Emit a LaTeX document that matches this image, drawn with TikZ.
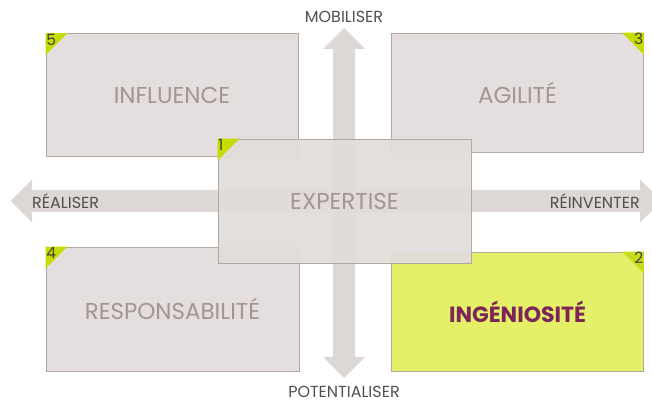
\documentclass[tikz,border=0pt]{standalone}
\usepackage{fontspec}
\setmainfont{Poppins}
\definecolor{boxfill}{HTML}{E2DDDB}
\definecolor{boxline}{HTML}{B3A79F}
\definecolor{arrowfill}{HTML}{DDD8D5}
\definecolor{boxtext}{HTML}{A39590}
\definecolor{axistext}{HTML}{505050}
\definecolor{numtext}{HTML}{404040}
\definecolor{limecorner}{HTML}{C6DC00}
\definecolor{limefill}{HTML}{E2F05C}
\definecolor{limecorner2}{HTML}{C8DC18}
\definecolor{burgundy}{HTML}{7D2458}
\begin{document}
\begin{tikzpicture}[x=1pt,y=-1pt,
  quad/.style={draw=boxline, line width=0.8pt, fill=boxfill, fill opacity=0.93, text opacity=1,
    minimum width=252pt, minimum height=123pt, inner sep=0pt, text=boxtext,
    font=\fontsize{23}{26}\selectfont},
  axislabel/.style={text=axistext, inner sep=0pt, font=\fontsize{16}{18}\selectfont},
  num/.style={text=numtext, inner sep=0.5pt, font=\fontsize{15.5}{16}\selectfont},
  corner/.style={fill=limecorner}]
\useasboundingbox (0,0) rectangle (652,403);
\clip (0,0) rectangle (652,403);
% axes
\fill[arrowfill] (10.5,201) -- (32,179.5) -- (32,190) -- (640,190) -- (640,179.5) -- (661.5,201)
  -- (640,222.5) -- (640,212) -- (32,212) -- (32,222.5) -- cycle;
\fill[arrowfill] (344,28) -- (365,49) -- (355,49) -- (355,357) -- (365,357) -- (344,378)
  -- (323,357) -- (333,357) -- (333,49) -- (323,49) -- cycle;
\node[axislabel] (mob) at (344,17) {MOBILISER};
\node[axislabel] (pot) at (344,392) {POTENTIALISER};
\node[axislabel, anchor=west] (rea) at (32,201) {RÉALISER};
\node[axislabel, anchor=east] (rei) at (640,201) {RÉINVENTER};
% boxes
\node[quad] (b5) at (172,95) {INFLUENCE};
\fill[corner] (b5.north west) -- ++(22,0) -- ++(-22,22) -- cycle;
\node[num, anchor=north west] (n5) at (b5.north west) {5};

\node[quad, minimum height=119pt] (b3) at (517.5,92.5) {AGILITÉ};
\fill[corner] (b3.north east) -- ++(-22,0) -- ++(22,22) -- cycle;
\node[num, anchor=north east] (n3) at (b3.north east) {3};

\node[quad, minimum width=253pt, minimum height=124pt] (b4) at (172.5,309) {RESPONSABILITÉ};
\fill[corner] (b4.north west) -- ++(22,0) -- ++(-22,22) -- cycle;
\node[num, anchor=north west] (n4) at (b4.north west) {4};

\node[quad, fill=limefill, minimum height=119pt, text=burgundy,
  font=\fontsize{22}{25}\selectfont\bfseries] (b2) at (517.5,311.5) {INGÉNIOSITÉ};
\fill[limecorner2] (b2.north east) -- ++(-22,0) -- ++(22,22) -- cycle;
\node[num, anchor=north east] (n2) at (b2.north east) {2};

\node[quad, fill opacity=0.95, minimum width=253pt, minimum height=124pt] (b1) at (344.5,201) {EXPERTISE};
\fill[corner] (b1.north west) -- ++(22,0) -- ++(-22,22) -- cycle;
\node[num, anchor=north west] (n1) at (b1.north west) {1};
\end{tikzpicture}
\end{document}
